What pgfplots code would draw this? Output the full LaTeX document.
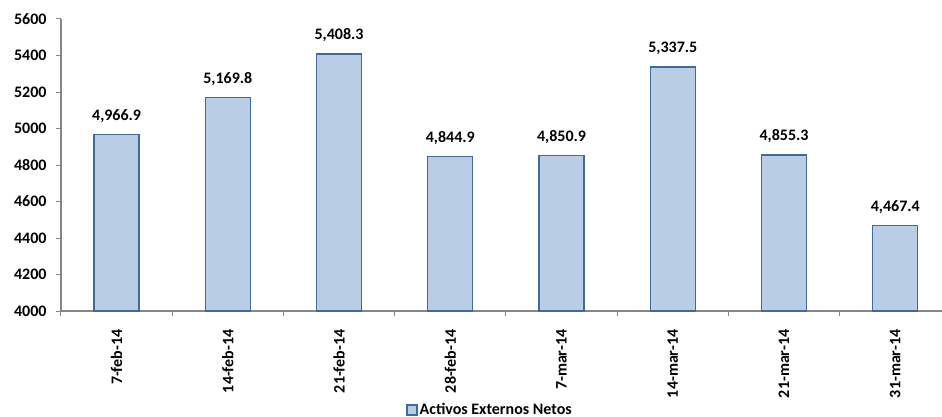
\documentclass[border=0pt]{standalone}
\usepackage{pgfplots}
\pgfplotsset{compat=1.18}
\usepackage{fontspec}
\setmainfont{Carlito}
\definecolor{barfill}{HTML}{B9CDE5}
\definecolor{barline}{HTML}{41699C}
\definecolor{axisgray}{HTML}{868686}
\newcommand{\lblfont}{\fontsize{16bp}{19bp}\selectfont\bfseries}
\begin{document}
\lblfont
\begin{tikzpicture}[x=1bp,y=1bp]
\useasboundingbox (-61bp,-106bp) rectangle (881bp,311bp);
\begin{axis}[
    scale only axis,
    width=881bp, height=292bp,
    axis lines*=left,
    axis line style={axisgray, line width=1.2bp},
    ymin=4000, ymax=5600,
    xmin=-0.5, xmax=7.42,
    ytick={4000,4200,...,5600},
    xtick={0,...,7},
    xticklabels={7-feb-14,14-feb-14,21-feb-14,28-feb-14,7-mar-14,14-mar-14,21-mar-14,31-mar-14},
    minor xtick={-0.5,0.5,...,6.5},
    major x tick style={draw=none},
    minor tick length=5bp,
    major tick length=5bp,
    tick align=outside,
    tick style={axisgray, line width=1bp},
    /pgf/number format/assume math mode=true,
    yticklabel style={font=\lblfont, xshift=-4bp},
    xticklabel style={font=\lblfont, rotate=90, anchor=east, xshift=-8bp},
    y tick label style={/pgf/number format/1000 sep={}},
    ybar, bar width=45bp,
    nodes near coords,
    every node near coord/.append style={font=\lblfont, yshift=6bp,
        /pgf/number format/.cd, fixed, fixed zerofill, precision=1, 1000 sep={,}, assume math mode=true},
    legend style={at={(0.487,-0.339)}, anchor=center, draw=none, font=\lblfont,
        inner sep=0pt},
    legend image code/.code={\draw[#1] (0bp,-5bp) rectangle (10bp,5bp);},
]
\addplot[fill=barfill, draw=barline, line width=1.3bp] coordinates {
    (0,4966.9) (1,5169.8) (2,5408.3) (3,4844.9) (4,4850.9) (5,5337.5) (6,4855.3) (7,4467.4)};
\addlegendentry{Activos Externos Netos}
\end{axis}
\end{tikzpicture}
\end{document}
